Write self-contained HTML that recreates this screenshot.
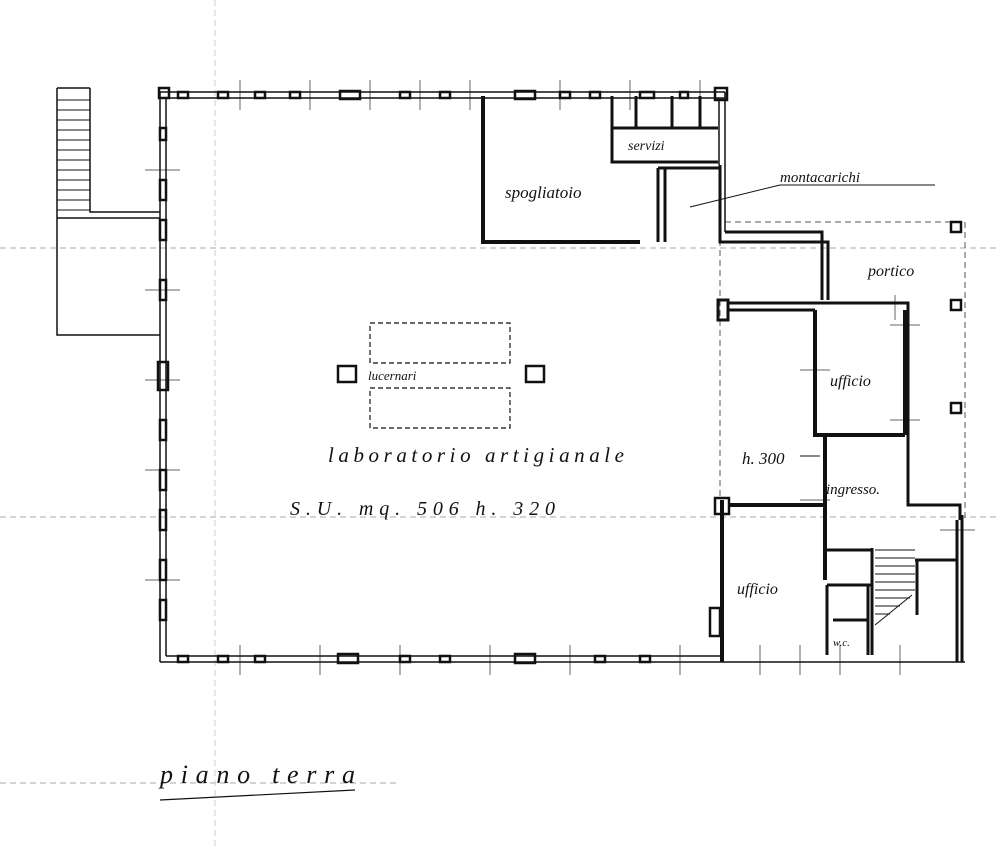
<!DOCTYPE html>
<html><head><meta charset="utf-8"><style>
html,body{margin:0;padding:0;background:#fff;width:1000px;height:849px;overflow:hidden}
svg{display:block}
text{font-family:"Liberation Serif",serif;font-style:italic;fill:#111}
</style></head><body>
<svg width="1000" height="849" viewBox="0 0 1000 849" xmlns="http://www.w3.org/2000/svg">
<g stroke="#aaa" stroke-width="1" stroke-dasharray="6,4" fill="none">
<line x1="0" y1="248" x2="1000" y2="248"/>
<line x1="0" y1="517" x2="1000" y2="517"/>
<line x1="0" y1="783" x2="400" y2="783"/>
<line x1="215" y1="0" x2="215" y2="849" stroke="#ccc"/>
<line x1="720" y1="240" x2="720" y2="500" stroke="#555"/>
<line x1="965" y1="222" x2="965" y2="520" stroke="#555"/>
<line x1="725" y1="222" x2="965" y2="222" stroke="#555"/>
</g>
<g stroke="#666" stroke-width="1" fill="none">
<path d="M240 80V110 M310 80V110 M370 80V110 M420 80V110 M470 80V110 M560 80V110 M630 80V110 M700 80V110 M145 170H180 M145 290H180 M145 380H180 M145 470H180 M145 580H180 M240 645V675 M320 645V675 M400 645V675 M490 645V675 M570 645V675 M680 645V675 M760 645V675 M800 645V675 M840 645V675 M900 645V675 M800 370H830 M800 500H830 M940 530H975 M890 325H920 M890 420H920 M895 295V320"/>
</g>
<g fill="none" stroke="#111">
<path d="M160 92 H725 M160 98 H725" stroke-width="1.5"/>
<path d="M160 92 V662 M166 98 V656" stroke-width="1.5"/>
<path d="M160 662 H965 M166 656 H720" stroke-width="1.5"/>
<path d="M725 92 V232 M719 98 V165" stroke-width="1.5"/>
<g stroke-width="2.5">
<rect x="178" y="92" width="10" height="6"/><rect x="218" y="92" width="10" height="6"/><rect x="255" y="92" width="10" height="6"/><rect x="290" y="92" width="10" height="6"/><rect x="340" y="91" width="20" height="8"/><rect x="400" y="92" width="10" height="6"/><rect x="440" y="92" width="10" height="6"/><rect x="515" y="91" width="20" height="8"/><rect x="560" y="92" width="10" height="6"/><rect x="590" y="92" width="10" height="6"/><rect x="640" y="92" width="14" height="6"/><rect x="680" y="92" width="8" height="6"/>
<rect x="160" y="128" width="6" height="12"/><rect x="160" y="180" width="6" height="20"/><rect x="160" y="220" width="6" height="20"/><rect x="160" y="280" width="6" height="20"/><rect x="158" y="362" width="10" height="28"/><rect x="160" y="420" width="6" height="20"/><rect x="160" y="470" width="6" height="20"/><rect x="160" y="510" width="6" height="20"/><rect x="160" y="560" width="6" height="20"/><rect x="160" y="600" width="6" height="20"/>
<rect x="178" y="656" width="10" height="6"/><rect x="218" y="656" width="10" height="6"/><rect x="255" y="656" width="10" height="6"/><rect x="338" y="654" width="20" height="9"/><rect x="400" y="656" width="10" height="6"/><rect x="440" y="656" width="10" height="6"/><rect x="515" y="654" width="20" height="9"/><rect x="595" y="656" width="10" height="6"/><rect x="640" y="656" width="10" height="6"/>
<rect x="338" y="366" width="18" height="16"/><rect x="526" y="366" width="18" height="16"/>
<rect x="159" y="88" width="10" height="10"/><rect x="715" y="88" width="12" height="12"/>
</g>
<path d="M57 88 V335 H160 M90 88 V212 H160 M57 88 H90 M57 218 H160" stroke-width="1.5"/>
<g stroke-width="1"><path d="M57 100H90M57 110H90M57 120H90M57 130H90M57 140H90M57 150H90M57 160H90M57 170H90M57 180H90M57 190H90M57 200H90M57 210H90"/></g>
<path d="M483 96 V242 H640" stroke-width="4"/>
<path d="M612 96 V162 H718 M636 96 V128 M672 96 V128 M700 96 V128 M612 128 H718" stroke-width="3"/>
<path d="M658 168 V242 M665 168 V242 M658 168 H720" stroke-width="3"/>
<path d="M720 165 V242 H828 V300 M725 232 H822 V300" stroke-width="3"/>
<path d="M718 300 V320 H728 V300 Z" stroke-width="3"/>
<path d="M728 303 H908 V505 H960 V520 M728 310 H815 M908 303 V310" stroke-width="3"/>
<path d="M815 310 V435 H905 M905 310 V435" stroke-width="4"/>
<path d="M825 435 V580" stroke-width="4"/>
<path d="M722 500 V662 M728 505 H825" stroke-width="4"/>
<rect x="710" y="608" width="10" height="28" stroke-width="2.5"/>
<rect x="715" y="498" width="14" height="16" stroke-width="2.5"/>
<path d="M827 550 H872 V585 H827 M827 585 V655 M833 620 H868 M868 585 V655 M872 548 V655" stroke-width="3"/>
<path d="M915 560 H958 M917 560 V615 M962 515 V662 M957 520 V662" stroke-width="3"/>
<g stroke-width="1"><path d="M875 550H915M875 558H915M875 566H915M875 574H915M875 582H915M875 590H915M875 598H910M875 606H900M875 614H890 M875 625 L912 595"/></g>
<rect x="951" y="222" width="10" height="10" stroke-width="2.5"/>
<rect x="951" y="300" width="10" height="10" stroke-width="2.5"/>
<rect x="951" y="403" width="10" height="10" stroke-width="2.5"/>
<g stroke-dasharray="5,3" stroke-width="1.2"><rect x="370" y="323" width="140" height="40"/><rect x="370" y="388" width="140" height="40"/></g>
<line x1="690" y1="207" x2="780" y2="185" stroke-width="1"/>
<line x1="780" y1="185" x2="935" y2="185" stroke-width="1"/>
<line x1="800" y1="456" x2="820" y2="456" stroke-width="1"/>
<path d="M160 800 Q250 795 355 790" stroke-width="1.2"/>
</g>
<g font-size="17">
<text x="505" y="198">spogliatoio</text>
<text x="628" y="150" font-size="14">servizi</text>
<text x="780" y="182" font-size="15">montacarichi</text>
<text x="868" y="276" font-size="16">portico</text>
<text x="830" y="386" font-size="16">ufficio</text>
<text x="368" y="380" font-size="13">lucernari</text>
<text x="328" y="462" font-size="21" textLength="296" lengthAdjust="spacing">laboratorio artigianale</text>
<text x="290" y="515" font-size="20" font-style="normal" textLength="265" lengthAdjust="spacing">S.U. mq. 506  h. 320</text>
<text x="742" y="464" font-size="17" font-style="normal">h. 300</text>
<text x="826" y="494" font-size="15">ingresso.</text>
<text x="737" y="594" font-size="16">ufficio</text>
<text x="833" y="646" font-size="11">w.c.</text>
<text x="160" y="783" font-size="26" textLength="195" lengthAdjust="spacing">piano terra</text>
</g>
</svg>
</body></html>
